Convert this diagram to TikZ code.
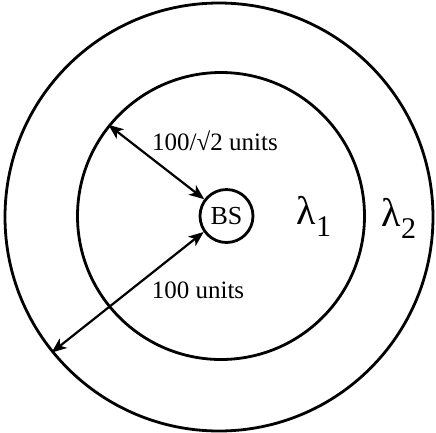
\documentclass[tikz,border=0pt]{standalone}
\usepackage{fontspec}
\setmainfont{Liberation Serif}
\usepackage{tikz}
\usetikzlibrary{arrows.meta,calc,positioning}

\begin{document}
\begin{tikzpicture}[x=1pt, y=-1pt, line width=2.8pt,
  ring/.style={draw, circle, inner sep=0pt},
  lbl/.style={font=\fontsize{25}{29}\selectfont, inner sep=0pt},
  lam/.style={font=\fontsize{40}{46}\selectfont, inner sep=0pt},
  dist/.style={{Stealth[length=15pt,width=12pt,inset=4pt]}-{Stealth[length=15pt,width=12pt,inset=4pt]}, line width=2.2pt}]
\useasboundingbox (0,0) rectangle (436,432);
\node[ring, minimum size=428pt] (outer) at (219,217) {};
\node[ring, minimum size=287pt] (inner) at (221,216) {};
\node[ring, minimum size=53pt, font=\fontsize{26}{30}\selectfont] (bs) at (226.5,216) {BS};
\draw[dist] (inner.141) -- (bs.143);
\draw[dist] (bs.215) -- (outer.219);
\node[lbl] (rin) at (215,141) {100/√2 units};
\node[lbl] (rout) at (198,290) {100 units};
\node[lam] (l1) at (314,216) {λ\raisebox{-0.3em}{\fontsize{30}{34}\selectfont 1}};
\node[lam] (l2) at (399,218) {λ\raisebox{-0.3em}{\fontsize{30}{34}\selectfont 2}};
\end{tikzpicture}
\end{document}
